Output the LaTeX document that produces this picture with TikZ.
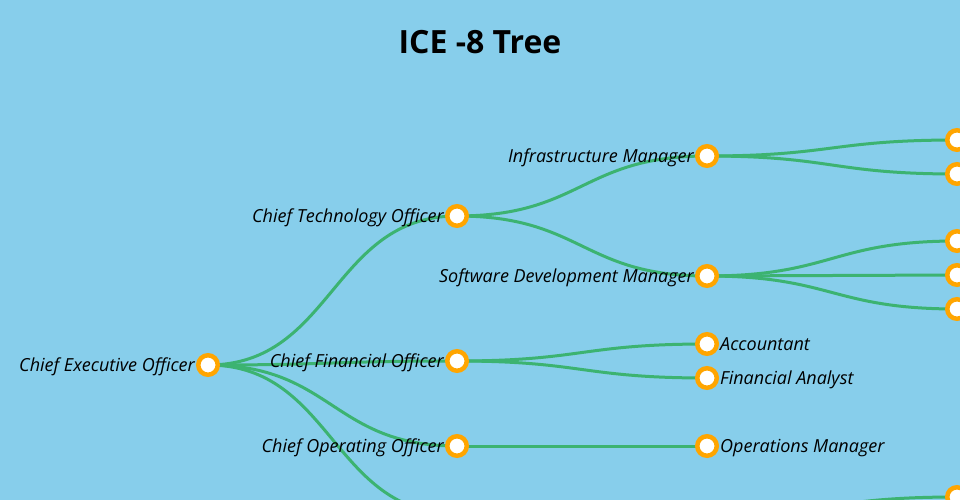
\documentclass[tikz,border=0pt]{standalone}
\usepackage{fontspec}
\setmainfont{Open Sans}
\usetikzlibrary{backgrounds}
\definecolor{sky}{HTML}{87CEEB}
\definecolor{linkgreen}{HTML}{3CB371}
\definecolor{ring}{HTML}{FFA500}
\begin{document}
\begin{tikzpicture}[x=1pt, y=-1pt, dot/.style={circle,draw=ring,fill=white,line width=4.5pt,minimum size=19.5pt,inner sep=0pt}, line/.style={draw=linkgreen,line width=3pt,out=0,in=180,distance=125pt}, lblL/.style={anchor=base east,font=\itshape\fontsize{18}{22}\selectfont,inner sep=0pt}, lblR/.style={anchor=base west,font=\itshape\fontsize{18}{22}\selectfont,inner sep=0pt}]
\useasboundingbox (0,0) rectangle (960,500);
\clip (0,0) rectangle (960,500);
\node[anchor=base,font=\bfseries\fontsize{32}{38}\selectfont] (title) at (480,54) {ICE -8 Tree};
\node[dot] (ceo) at (208,365) {};
\node[dot] (cto) at (457,216) {};
\node[dot] (cfo) at (457,361) {};
\node[dot] (coo) at (457,446) {};
\node[dot] (cxo) at (457,514) {};
\node[dot] (infra) at (707,156) {};
\node[dot] (softdev) at (707,276) {};
\node[dot] (acct) at (707,344) {};
\node[dot] (analyst) at (707,378) {};
\node[dot] (ops) at (707,446) {};
\node[dot] (cxomgr) at (707,514) {};
\node[dot] (infraA) at (957,140) {};
\node[dot] (infraB) at (957,174) {};
\node[dot] (devA) at (957,241) {};
\node[dot] (devB) at (957,275) {};
\node[dot] (devC) at (957,309) {};
\node[dot] (cxoA) at (957,497) {};
\node[lblL] (ceoL) at ([xshift=-13pt,yshift=-6.6pt]ceo.center) {Chief Executive Officer};
\node[lblL] (ctoL) at ([xshift=-13pt,yshift=-6.6pt]cto.center) {Chief Technology Officer};
\node[lblL] (cfoL) at ([xshift=-13pt,yshift=-6.6pt]cfo.center) {Chief Financial Officer};
\node[lblL] (cooL) at ([xshift=-13pt,yshift=-6.6pt]coo.center) {Chief Operating Officer};
\node[lblL] (infraL) at ([xshift=-13pt,yshift=-6.6pt]infra.center) {Infrastructure Manager};
\node[lblL] (softdevL) at ([xshift=-13pt,yshift=-6.6pt]softdev.center) {Software Development Manager};
\node[lblR] (acctL) at ([xshift=13pt,yshift=-6.6pt]acct.center) {Accountant};
\node[lblR] (analystL) at ([xshift=13pt,yshift=-6.6pt]analyst.center) {Financial Analyst};
\node[lblR] (opsL) at ([xshift=13pt,yshift=-6.6pt]ops.center) {Operations Manager};
\begin{scope}[on background layer]
\clip (0,0) rectangle (960,500);
\fill[sky] (0,0) rectangle (960,500);
\draw[line] (ceo.center) to (cto.center);
\draw[line] (ceo.center) to (cfo.center);
\draw[line] (ceo.center) to (coo.center);
\draw[line] (ceo.center) to (cxo.center);
\draw[line] (cto.center) to (infra.center);
\draw[line] (cto.center) to (softdev.center);
\draw[line] (cfo.center) to (acct.center);
\draw[line] (cfo.center) to (analyst.center);
\draw[line] (coo.center) to (ops.center);
\draw[line] (cxo.center) to (cxomgr.center);
\draw[line] (infra.center) to (infraA.center);
\draw[line] (infra.center) to (infraB.center);
\draw[line] (softdev.center) to (devA.center);
\draw[line] (softdev.center) to (devB.center);
\draw[line] (softdev.center) to (devC.center);
\draw[line] (cxomgr.center) to (cxoA.center);
\end{scope}
\end{tikzpicture}
\end{document}
